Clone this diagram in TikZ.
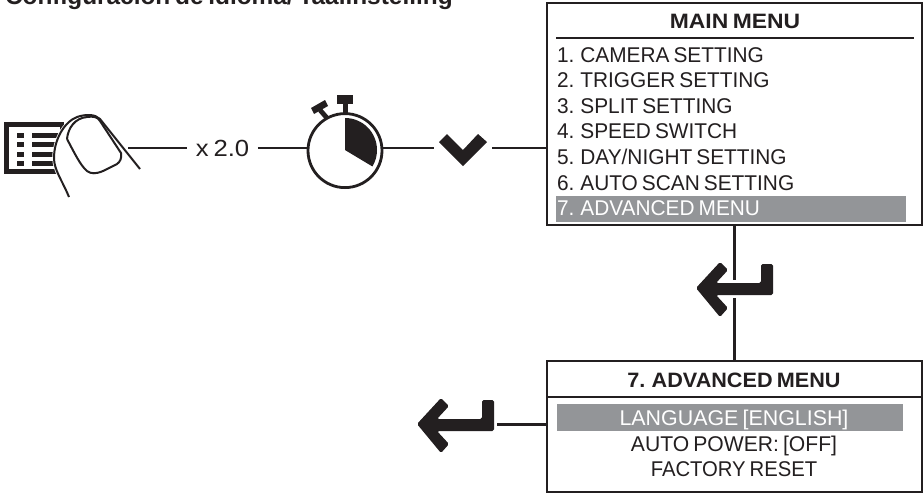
\documentclass[tikz,border=0pt]{standalone}
\usepackage{fontspec}
\setmainfont[WordSpace=0.7]{Liberation Sans}
\definecolor{ink}{HTML}{231F20}
\definecolor{hl}{HTML}{939598}
\newcommand{\fs}[1]{\fontsize{#1}{#1}\selectfont}
\tikzset{
  x=0.75pt,y=-0.75pt,
  every node/.style={text=ink,inner sep=0pt,outer sep=0pt},
  wire/.style={draw=ink,line width=1.7pt},
  menubox/.style={draw=ink,line width=2pt,minimum width=281.25pt},
  item/.style={font=\fs{16},anchor=base west,xscale=0.977},
  citem/.style={font=\fs{16},anchor=base},
  head/.style={font=\fs{15.6}\bfseries,anchor=base},
}
\newcommand{\enterglyph}{%
  \fill[ink,rounded corners=1.2pt] (696,288) -- (720,262) -- (728,270) -- (716,283) -- (761,283)
    -- (761,264) -- (773,264) -- (773,295) -- (716,295) -- (728,308) -- (720,317) -- cycle;}
\begin{document}
\begin{tikzpicture}
\path[use as bounding box,clip] (0,0) rectangle (924,494);
\fill[white] (0,0) rectangle (924,494);
% title
\node[font=\fs{18.3}\bfseries,anchor=base west] (title) at (5,4) {Configuración de idioma/ Taalinstelling};
% menu boxes
\node[menubox,minimum height=166.5pt] (mainbox) at (734.5,114) {};
\node[menubox,minimum height=98.25pt] (advbox) at (734.5,426.5) {};
\draw[ink,line width=1.9pt] (556,38) -- (914,38);
\draw[ink,line width=1.5pt] (advbox.west |- 0,397) -- (advbox.east |- 0,397);
\fill[hl] (556,196) rectangle (906,222);
\fill[hl] (557,404) rectangle (903,431);
\node[head,xscale=1.10] (mainhead) at (735,28) {MAIN MENU};
\node[item] (m1) at (557,62) {1. CAMERA SETTING};
\node[item] (m2) at (557,87) {2. TRIGGER SETTING};
\node[item] (m3) at (557,113) {3. SPLIT SETTING};
\node[item] (m4) at (557,138) {4. SPEED SWITCH};
\node[item] (m5) at (557,164) {5. DAY/NIGHT SETTING};
\node[item] (m6) at (557,190) {6. AUTO SCAN SETTING};
\node[item,text=white] (m7) at (557,215) {7. ADVANCED MENU};
\node[head,xscale=1.04] (advhead) at (734,387) {7. ADVANCED MENU};
\node[citem,text=white,xscale=1.003] (a1) at (734,425) {LANGUAGE [ENGLISH]};
\node[citem,xscale=0.99] (a2) at (734,451) {AUTO POWER: [OFF]};
\node[citem,xscale=0.95] (a3) at (734,476) {FACTORY RESET};
% menu-button icon
\draw[ink,line width=3.6pt] (6.5,124.5) rectangle (62,171.5);
\foreach \yy in {133,142,152,161}{
  \fill[ink] (17,\yy) rectangle (24,\yy+5);
  \fill[ink] (32,\yy) rectangle (60,\yy+5);
}
% finger
\path[fill=white,draw=white,line width=2.6pt]
  (69,197) .. controls (62,180) and (54,170) .. (54,158)
  .. controls (54,140) and (64,122) .. (77,117)
  .. controls (86,114) and (95,114) .. (100,119) -- (140,168) -- cycle;
\draw[ink,line width=1.5pt]
  (69,197) .. controls (62,180) and (54,170) .. (54,158)
  .. controls (54,140) and (64,122) .. (77,117)
  .. controls (86,114) and (95,114) .. (100,119)
  -- (140,169);
\draw[ink,line width=1.5pt]
  (67,139) .. controls (68,128) and (75,118) .. (87,117)
  .. controls (93,116) and (98,117) .. (100,121)
  -- (121,153) .. controls (122,158) and (120,162) .. (117,164)
  -- (103,171) .. controls (96,174) and (91,174) .. (87,171)
  .. controls (80,165) and (74,152) .. (67,139);
% stopwatch
\node[circle,draw=ink,line width=2.1pt,minimum size=55.5pt] (watch) at (345,150.6) {};
\fill[ink] (345,150) -- (345,118) arc[start angle=90,end angle=-31,radius=32*0.75pt] -- cycle;
\fill[ink] (337,95) rectangle (353,104);
\fill[ink] (343,104) rectangle (348,114);
\fill[ink] (311,108) -- (325,100) -- (328,106) -- (314,114) -- cycle;
\draw[ink,line width=3.6pt] (320,110) -- (327,118);
% chevron
\node[minimum width=43.5pt,minimum height=24pt] (chev) at (463,148) {};
\fill[ink] (439,142) -- (447,134) -- (463,150) -- (478,134) -- (487,142) -- (463,166) -- cycle;
% enter glyphs
\node[minimum width=1pt,minimum height=13.5pt] (enter1) at (734.5,289) {};
\enterglyph
\begin{scope}[shift={(-279,136)}]\enterglyph\end{scope}
\node[minimum width=62pt,minimum height=20pt] (enter2) at (456,424.5) {};
% x 2.0
\coordinate (fingerend) at (128,148);
\node[font=\fs{17.5},xscale=1.1,minimum width=48.4pt] (times) at (222.5,148.7) {x 2.0};
% connectors
\draw[wire] (fingerend) -- (times.west |- fingerend);
\draw[wire] (times.east |- fingerend) -- (watch.west |- fingerend);
\draw[wire] (watch.east |- fingerend) -- (chev.west |- fingerend);
\draw[wire] (chev.east |- fingerend) -- (mainbox.west |- fingerend);
\draw[wire] (mainbox.south) -- (enter1.north);
\draw[wire] (enter1.south) -- (advbox.north);
\draw[wire] (enter2.east) -- (advbox.west |- enter2.east);
\end{tikzpicture}
\end{document}
